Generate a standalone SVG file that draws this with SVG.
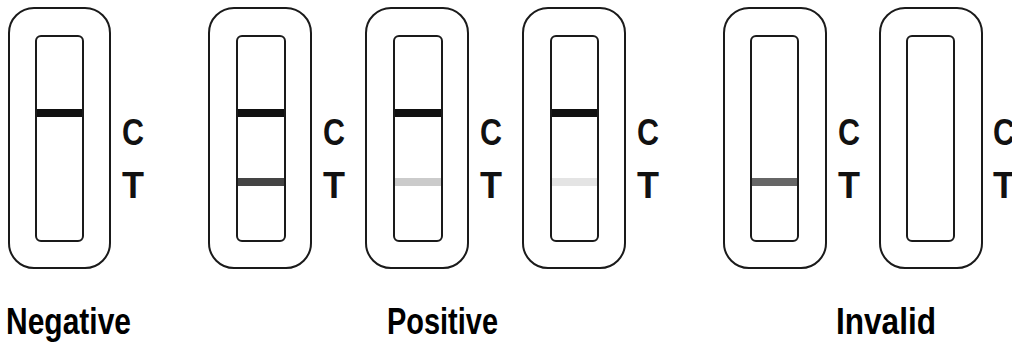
<svg xmlns="http://www.w3.org/2000/svg" width="1012" height="345" viewBox="0 0 1012 345">
<style>
.outer{fill:#fff;stroke:#1a1a1a;stroke-width:2}
.inner{fill:#fff;stroke:#1a1a1a;stroke-width:2}
.lbl{font-family:"Liberation Sans",Arial,sans-serif;font-weight:bold;font-size:37px;fill:#000}
.ct{font-family:"Liberation Sans",Arial,sans-serif;font-weight:bold;font-size:36px;fill:#111}
</style>
<rect width="1012" height="345" fill="#fff"/>
<g id="neg1">
<rect class="outer" x="9" y="8" width="101" height="260" rx="25"/>
<rect class="inner" x="36" y="36" width="47" height="205" rx="5"/>
<rect x="37" y="109" width="45" height="8" fill="#111"/>
<text class="ct" x="122" y="145" textLength="22" lengthAdjust="spacingAndGlyphs">C</text>
<text class="ct" x="122" y="198" textLength="22" lengthAdjust="spacingAndGlyphs">T</text>
</g>
<g id="pos1">
<rect class="outer" x="209" y="8" width="102" height="260" rx="25"/>
<rect class="inner" x="237" y="36" width="48" height="205" rx="5"/>
<rect x="238" y="109" width="46" height="8" fill="#111"/>
<rect x="238" y="178" width="46" height="8" fill="#444"/>
<text class="ct" x="323" y="145" textLength="22" lengthAdjust="spacingAndGlyphs">C</text>
<text class="ct" x="323" y="198" textLength="22" lengthAdjust="spacingAndGlyphs">T</text>
</g>
<g id="pos2">
<rect class="outer" x="366" y="8" width="102" height="260" rx="25"/>
<rect class="inner" x="394" y="36" width="48" height="205" rx="5"/>
<rect x="395" y="109" width="46" height="8" fill="#111"/>
<rect x="395" y="178" width="46" height="8" fill="#cbcbcb"/>
<text class="ct" x="480" y="145" textLength="22" lengthAdjust="spacingAndGlyphs">C</text>
<text class="ct" x="480" y="198" textLength="22" lengthAdjust="spacingAndGlyphs">T</text>
</g>
<g id="pos3">
<rect class="outer" x="523" y="8" width="102" height="260" rx="25"/>
<rect class="inner" x="551" y="36" width="47" height="205" rx="5"/>
<rect x="552" y="109" width="45" height="8" fill="#111"/>
<rect x="552" y="178" width="45" height="8" fill="#e4e4e4"/>
<text class="ct" x="637" y="145" textLength="22" lengthAdjust="spacingAndGlyphs">C</text>
<text class="ct" x="637" y="198" textLength="22" lengthAdjust="spacingAndGlyphs">T</text>
</g>
<g id="inv1">
<rect class="outer" x="724" y="8" width="102" height="260" rx="25"/>
<rect class="inner" x="751" y="36" width="47" height="205" rx="5"/>
<rect x="752" y="178" width="45" height="8" fill="#666"/>
<text class="ct" x="838" y="145" textLength="22" lengthAdjust="spacingAndGlyphs">C</text>
<text class="ct" x="838" y="198" textLength="22" lengthAdjust="spacingAndGlyphs">T</text>
</g>
<g id="inv2">
<rect class="outer" x="880" y="8" width="102" height="260" rx="25"/>
<rect class="inner" x="907" y="36" width="47" height="205" rx="5"/>
<text class="ct" x="993" y="145" textLength="22" lengthAdjust="spacingAndGlyphs">C</text>
<text class="ct" x="993" y="198" textLength="22" lengthAdjust="spacingAndGlyphs">T</text>
</g>
<g id="labels">
<text class="lbl" x="6" y="334" textLength="125" lengthAdjust="spacingAndGlyphs">Negative</text>
<text class="lbl" x="387" y="334" textLength="111" lengthAdjust="spacingAndGlyphs">Positive</text>
<text class="lbl" x="836" y="334" textLength="100" lengthAdjust="spacingAndGlyphs">Invalid</text>
</g>
<g id="connectors"/>
</svg>
